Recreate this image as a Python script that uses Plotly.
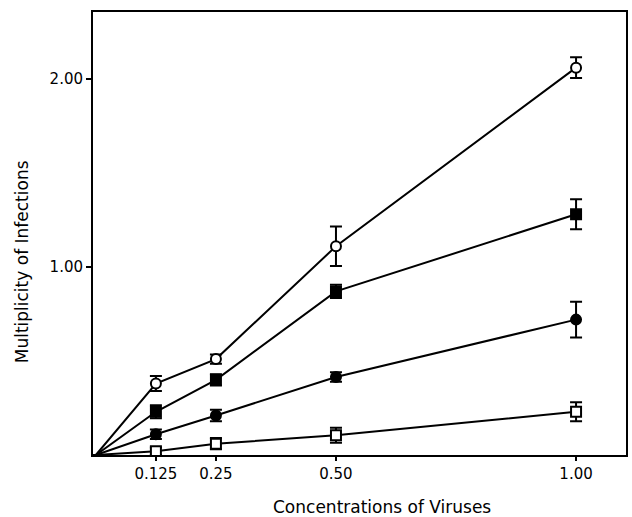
import plotly.graph_objects as go

x_vals = [0, 0.125, 0.25, 0.50, 1.00]
x_tick_vals = [0.125, 0.25, 0.50, 1.00]
x_tick_text = ["0.125", "0.25", "0.50", "1.00"]
y_tick_vals = [1.0, 2.0]
y_tick_text = ["1.00", "2.00"]

open_circle = [0, 0.38, 0.51, 1.11, 2.06]
open_circle_err = [0, 0.04, 0.025, 0.105, 0.055]
filled_square = [0, 0.23, 0.40, 0.87, 1.28]
filled_square_err = [0, 0.035, 0.03, 0.035, 0.08]
filled_circle = [0, 0.11, 0.21, 0.415, 0.72]
filled_circle_err = [0, 0.025, 0.03, 0.025, 0.095]
open_square = [0, 0.02, 0.06, 0.105, 0.23]
open_square_err = [0, 0.02, 0.03, 0.04, 0.05]

series = [
    (open_circle, open_circle_err, "circle", "white", "Open circle"),
    (filled_square, filled_square_err, "square", "black", "Filled square"),
    (filled_circle, filled_circle_err, "circle", "black", "Filled circle"),
    (open_square, open_square_err, "square", "white", "Open square"),
]

fig = go.Figure()
for ys, errs, sym, fill, name in series:
    fig.add_trace(go.Scatter(
        x=x_vals, y=ys, name=name, mode="lines",
        line=dict(color="black", width=2),
        error_y=dict(type="data", array=errs, color="black", thickness=2, width=6),
        showlegend=False, hoverinfo="skip",
    ))
for ys, errs, sym, fill, name in series:
    fig.add_trace(go.Scatter(
        x=x_vals[1:], y=ys[1:], mode="markers", name=name,
        marker=dict(symbol=sym, size=10, color=fill, line=dict(color="black", width=2)),
        showlegend=False,
    ))

W, H = 632, 517
L, R, T, B = 93, 4, 12, 62
fig.update_layout(
    width=W, height=H,
    margin=dict(l=L, r=R, t=T, b=B),
    paper_bgcolor="white", plot_bgcolor="white",
    font=dict(family="DejaVu Sans", size=15, color="black"),
    xaxis=dict(range=[-0.006, 1.104], tickvals=x_tick_vals, ticktext=x_tick_text,
               showgrid=False, zeroline=False, showline=True, linecolor="black", linewidth=2,
               mirror=True, ticks="outside", ticklen=4, tickwidth=1.5, tickcolor="black",
               tickfont=dict(size=15)),
    yaxis=dict(range=[0, 2.356], tickvals=y_tick_vals, ticktext=y_tick_text,
               showgrid=False, zeroline=False, showline=True, linecolor="black", linewidth=2,
               mirror=True, ticks="outside", ticklen=5, tickwidth=2, tickcolor="black",
               tickfont=dict(size=15)),
)
plot_w = W - L - R
plot_h = H - T - B
fig.add_annotation(text="Concentrations of Viruses", xref="paper", yref="paper",
                   x=(383 - L) / plot_w, y=-(507 - (H - B)) / plot_h,
                   xanchor="center", yanchor="middle", showarrow=False, font=dict(size=17))
fig.add_annotation(text="Multiplicity of Infections", xref="paper", yref="paper",
                   x=-(L - 22) / plot_w, y=(H - B - 262) / plot_h, textangle=-90,
                   xanchor="center", yanchor="middle", showarrow=False, font=dict(size=17))

fig.write_html("out.html", config={"displayModeBar": False},
               post_script="document.body.style.margin='0';document.body.style.overflow='hidden';")
